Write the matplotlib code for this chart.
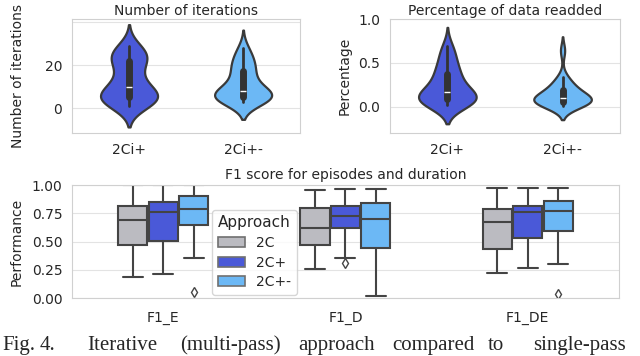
import matplotlib
matplotlib.use('Agg')
import matplotlib.pyplot as plt
import seaborn as sns
import pandas as pd
from matplotlib.patches import Patch

# --- violin samples (values read / estimated from the picture) ---
violin_labels = ['2Ci+', '2Ci+-']
iter_2ci_plus = [1, 2, 3, 3, 4, 4, 5, 5, 6, 6, 7, 8, 10, 11, 13, 15, 18, 21, 22, 23, 24, 25, 26, 27, 29]
iter_2ci_pm = [3, 3, 4, 4, 5, 5, 5, 6, 6, 6, 7, 8, 9, 10, 12, 14, 16, 18, 19, 21, 23, 25, 28]
pct_2ci_plus = [0.02, 0.03, 0.04, 0.05, 0.06, 0.08, 0.09, 0.10, 0.11, 0.12, 0.14, 0.17,
                0.19, 0.22, 0.26, 0.30, 0.35, 0.39, 0.42, 0.48, 0.55, 0.62, 0.69]
pct_2ci_pm = [0.01, 0.02, 0.03, 0.04, 0.04, 0.05, 0.06, 0.07, 0.08, 0.09, 0.10, 0.11,
              0.12, 0.14, 0.16, 0.19, 0.22, 0.25, 0.28, 0.34, 0.64]

# --- box stats for F1 scores ---
groups = ['F1_E', 'F1_D', 'F1_DE']
approaches = ['2C', '2C+', '2C+-']
whislo = [[0.19, 0.26, 0.22], [0.215, 0.353, 0.265], [0.353, 0.015, 0.303]]
q1 = [[0.47, 0.47, 0.435], [0.506, 0.618, 0.529], [0.647, 0.441, 0.594]]
med = [[0.69, 0.618, 0.674], [0.765, 0.726, 0.765], [0.785, 0.697, 0.774]]
q3 = [[0.81, 0.794, 0.788], [0.853, 0.815, 0.818], [0.903, 0.838, 0.856]]
whishi = [[1.0, 0.956, 0.97], [1.0, 0.962, 0.97], [1.0, 0.962, 0.97]]
fliers = [[[], [], []], [[], [0.31], []], [[0.05], [], [0.035]]]

colors = ['#bbbbc1', '#4a59d8', '#6cb8f5']
edge = '#444444'

sns.set_style('whitegrid')
plt.rcParams['font.family'] = ['DejaVu Sans']
plt.rcParams['font.size'] = 10
plt.rcParams['axes.edgecolor'] = '#d0d0d0'
plt.rcParams['grid.color'] = '#e3e3e3'

fig = plt.figure(figsize=(6.4, 3.56), dpi=100)
ax1 = fig.add_axes([0.1125, 0.6264, 0.3565, 0.3202])
ax2 = fig.add_axes([0.609, 0.6264, 0.360, 0.3202])
ax3 = fig.add_axes([0.1125, 0.1629, 0.8545, 0.3174])


def violins(ax, a, b, title, ylabel, label_x):
    df = pd.DataFrame({'approach': [violin_labels[0]] * len(a) + [violin_labels[1]] * len(b),
                       'value': list(a) + list(b)})
    sns.violinplot(data=df, x='approach', y='value', hue='approach',
                   palette=colors[1:], saturation=1, linewidth=1.6, linecolor='#3a3a3a',
                   density_norm='width', width=0.5, inner='box', legend=False,
                   inner_kws=dict(box_width=5, whis_width=2, color='#333333'), ax=ax)
    ax.set_title(title, fontsize=10, pad=3)
    ax.set_ylabel(ylabel, fontsize=10)
    ax.yaxis.set_label_coords(label_x, 0.5)
    ax.set_xlabel('')
    ax.set_xlim(-0.5, 1.5)
    ax.grid(axis='x', visible=False)
    ax.tick_params(length=0, labelsize=10, pad=7)


violins(ax1, iter_2ci_plus, iter_2ci_pm, 'Number of iterations', 'Number of iterations', -0.206)
ax1.set_ylim(-11.6, 41.4)
ax1.set_yticks([0, 20, 40], ['0', '20', ''])

violins(ax2, pct_2ci_plus, pct_2ci_pm, 'Percentage of data readded', 'Percentage', -0.165)
ax2.set_ylim(-0.3, 1.0)
ax2.set_yticks([0.0, 0.5, 1.0])

# boxes
offsets = [-1 / 6, 0, 1 / 6]
for k in range(len(approaches)):
    stats = []
    for g in range(len(groups)):
        stats.append(dict(whislo=whislo[k][g], q1=q1[k][g], med=med[k][g], q3=q3[k][g],
                          whishi=whishi[k][g], fliers=fliers[k][g]))
    ax3.bxp(stats, positions=[g + offsets[k] for g in range(len(groups))], widths=0.16,
            capwidths=0.11, patch_artist=True,
            boxprops=dict(facecolor=colors[k], edgecolor=edge, linewidth=1.5),
            medianprops=dict(color=edge, linewidth=1.5),
            whiskerprops=dict(color=edge, linewidth=1.5),
            capprops=dict(color=edge, linewidth=1.5),
            flierprops=dict(marker='d', markersize=5, markerfacecolor='none',
                            markeredgecolor=edge, markeredgewidth=1))
ax3.set_xlim(-0.5, 2.5)
ax3.set_ylim(0, 1.0)
ax3.set_xticks(range(len(groups)), groups)
ax3.set_yticks([0, 0.25, 0.5, 0.75, 1.0])
ax3.set_ylabel('Performance', fontsize=10)
ax3.yaxis.set_label_coords(-0.088, 0.5)
ax3.set_title('F1 score for episodes and duration', fontsize=10, pad=4)
ax3.grid(axis='x', visible=False)
ax3.tick_params(axis='y', length=0, labelsize=10, pad=7)
ax3.tick_params(axis='x', length=0, labelsize=10, pad=9)
handles = [Patch(facecolor=c, edgecolor='#707070', linewidth=1.2) for c in colors]
ax3.legend(handles, approaches, title='Approach', loc='lower left',
           bbox_to_anchor=(0.256, 0.03), borderaxespad=0, fontsize=10, title_fontsize=11,
           handlelength=2.0, labelspacing=0.4, frameon=True)

# caption
cap_words = ['Fig.', '4.', 'Iterative', '(multi-pass)', 'approach', 'compared', 'to', 'single-pass']
cap_x = [2, 40, 87, 180, 298, 392, 488, 533]
for w, x in zip(cap_words, cap_x):
    fig.text(x / 640, 0.017, w, family='Liberation Serif', fontsize=15, va='baseline')

fig.savefig('out.png', dpi=100)
